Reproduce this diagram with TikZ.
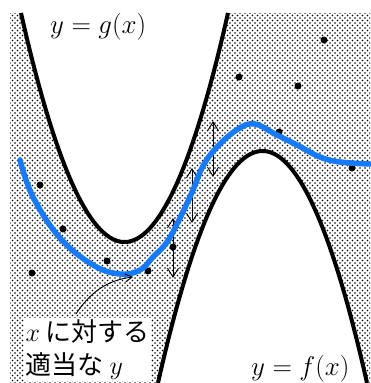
\RequirePackage{fix-cm}
\documentclass[tikz,border=0pt]{standalone}
\usepackage{fontspec}
\newfontfamily\jpfont{Noto Sans CJK JP}
\usetikzlibrary{patterns,arrows.meta}
\pgfdeclarepatternformonly{mydots}{\pgfqpoint{-1pt}{-1pt}}{\pgfqpoint{4pt}{4pt}}{\pgfqpoint{5pt}{5pt}}{%
  \pgfpathcircle{\pgfqpoint{0pt}{0pt}}{.85pt}%
  \pgfpathcircle{\pgfqpoint{2.5pt}{2.5pt}}{.85pt}%
  \pgfusepath{fill}}
\definecolor{curveblue}{RGB}{20,122,255}
\begin{document}
\begin{tikzpicture}[x=1pt,y=-1pt,
  bound/.style={line width=4pt,black},
  fitcurve/.style={line width=5.5pt,curveblue,line cap=round},
  datapt/.style={circle,fill=black,inner sep=0pt,minimum size=7pt},
  rangearrow/.style={line width=0.9pt,{Straight Barb[length=9pt,width=11pt]}-{Straight Barb[length=9pt,width=11pt]}},
  bigtext/.style={font=\fontsize{27}{32}\selectfont,inner sep=0pt}]
\useasboundingbox (0,0) rectangle (370,383);
% dotted region
\fill[pattern=mydots] (10,13) rectangle (370,383);
\fill[white] plot[domain=21:228,samples=90] (\x,{242-0.02138*(\x-124.5)^2}) -- cycle;
\fill[white] plot[domain=158:367,samples=90] (\x,{151+0.02124*(\x-262.5)^2}) -- (367,390) -- (158,390) -- cycle;
% boundary curves
\draw[bound] plot[domain=21:228,samples=90] (\x,{242-0.02138*(\x-124.5)^2});
\draw[bound] plot[domain=158:367,samples=90] (\x,{151+0.02124*(\x-262.5)^2});
% data points
\node[datapt] (p1) at (324,40) {};
\node[datapt] (p2) at (239,77) {};
\node[datapt] (p3) at (298,86) {};
\node[datapt] (p4) at (279,132) {};
\node[datapt] (p5) at (352,168) {};
\node[datapt] (p6) at (40,185) {};
\node[datapt] (p7) at (63,229) {};
\node[datapt] (p8) at (107,261) {};
\node[datapt] (p9) at (32,273) {};
\node[datapt] (p10) at (148,271) {};
\node[datapt] (p11) at (173,247) {};
% range arrows
\coordinate (a1t) at (173,218); \coordinate (a1b) at (173,278);
\coordinate (a2t) at (192,168); \coordinate (a2b) at (192,223);
\coordinate (a3t) at (213,121); \coordinate (a3b) at (213,177);
\draw[rangearrow] (a1t) -- (a1b);
\draw[rangearrow] (a2t) -- (a2b);
\draw[rangearrow] (a3t) -- (a3b);
% fitted curve
\draw[fitcurve] plot[smooth,tension=0.65] coordinates {(20,160) (33,197) (60,238) (93,265) (120,274) (140,270) (153,257) (167,242) (180,218) (193,190) (203,166) (217,147) (238,129) (255,124) (275,134) (297,145) (320,157) (340,162) (370,164)};
% labels
\node[bigtext,anchor=base west] (glabel) at (50,33) {$y=g(x)$};
\node[bigtext,anchor=base west] (flabel) at (251,375) {$y=f(x)$};
\node[anchor=north west,fill=white,align=left,inner sep=1.5pt,font=\fontsize{26}{33}\selectfont\jpfont] (note) at (24,318) {$x$ に対する\\適当な $y$};
\coordinate (nstart) at (76,314);
\coordinate (nend) at (133,277);
\draw[line width=0.9pt,-{Straight Barb[length=7pt,width=8pt]}] (nstart) .. controls (90,292) and (108,280) .. (nend);
\end{tikzpicture}
\end{document}
